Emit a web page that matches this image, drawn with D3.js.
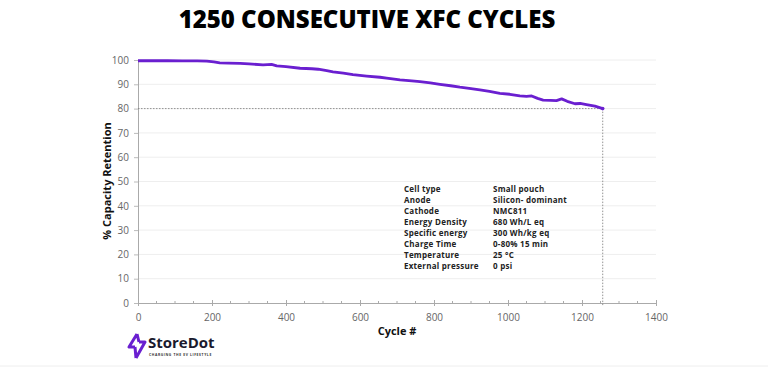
<!DOCTYPE html>
<html>
<head>
<meta charset="utf-8">
<script src="https://cdn.jsdelivr.net/npm/d3@7"></script>
<style>
  body { margin: 0; background: #fff; }
  text { font-family: "Open Sans", "Noto Sans", sans-serif; }
  .tick text { fill: #666; font-size: 10px; }
</style>
</head>
<body>
<div id="graphic"></div>
<script>
// cycle numbers and % capacity retention
var cycles    = [0, 40, 80, 120, 160, 186, 205, 221, 245, 276, 300, 338, 361, 375, 400, 438, 470, 487, 510, 527, 555, 581, 618, 654, 672, 708, 740, 762, 790, 816, 845, 870, 900, 924, 950, 978, 1005, 1032, 1050, 1064, 1080, 1095, 1115, 1131, 1145, 1160, 1181, 1195, 1212, 1235, 1256];
var retention = [99.7, 99.7, 99.7, 99.6, 99.6, 99.5, 99.2, 98.8, 98.7, 98.6, 98.4, 98.0, 98.2, 97.6, 97.3, 96.6, 96.4, 96.2, 95.6, 95.1, 94.6, 94.0, 93.4, 92.9, 92.5, 91.8, 91.4, 91.1, 90.6, 90.0, 89.4, 88.8, 88.2, 87.7, 87.1, 86.3, 85.9, 85.2, 85.0, 85.2, 84.2, 83.5, 83.4, 83.3, 84.0, 83.0, 82.0, 82.1, 81.6, 81.0, 80.0];

var xTicks = [0, 200, 400, 600, 800, 1000, 1200, 1400];
var yTicks = [0, 10, 20, 30, 40, 50, 60, 70, 80, 90, 100];
var eolCycle = 1256, eolLevel = 80;

var specLabels = ["Cell type", "Anode", "Cathode", "Energy Density", "Specific energy", "Charge Time", "Temperature", "External pressure"];
var specValues = ["Small pouch", "Silicon- dominant", "NMC811", "680 Wh/L eq", "300 Wh/kg eq", "0-80% 15 min", "25 °C", "0 psi"];

var width = 768, height = 367;
var margin = {top: 60, right: 112, bottom: 64, left: 138};

var svg = d3.select("#graphic")
    .append("svg")
    .attr("width", width)
    .attr("height", height);

var x = d3.scaleLinear().domain([0, 1400]).range([margin.left, width - margin.right]);
var y = d3.scaleLinear().domain([0, 100]).range([height - margin.bottom, margin.top]);

svg.append("text")
    .attr("x", 367)
    .attr("y", 28)
    .attr("text-anchor", "middle")
    .attr("font-size", "24px")
    .attr("font-weight", 800)
    .attr("fill", "#000")
    .text("1250 CONSECUTIVE XFC CYCLES");

// gridlines
svg.append("g")
    .selectAll("line")
    .data(yTicks.filter(d => d > 0))
    .enter().append("line")
    .attr("x1", x(0))
    .attr("x2", x(1400))
    .attr("y1", d => y(d))
    .attr("y2", d => y(d))
    .attr("stroke", "#eeeeee")
    .attr("stroke-width", 1);

// y axis
var yAxis = svg.append("g")
    .attr("transform", "translate(" + x(0) + ",0)")
    .call(d3.axisLeft(y).tickValues(yTicks).tickSize(4).tickPadding(5));
yAxis.select(".domain").attr("stroke", "#aaa");
yAxis.selectAll(".tick line").attr("stroke", "#bbb");

// x axis: minor ticks every 50
svg.append("g")
    .selectAll("line")
    .data(d3.range(50, 1400, 50).filter(d => d % 200 != 0))
    .enter().append("line")
    .attr("x1", d => x(d))
    .attr("x2", d => x(d))
    .attr("y1", y(0) - 2)
    .attr("y2", y(0))
    .attr("stroke", "#aaa");

var xAxis = svg.append("g")
    .attr("transform", "translate(0," + y(0) + ")")
    .call(d3.axisBottom(x).tickValues(xTicks).tickFormat(d3.format("d"))
      .tickSizeInner(3).tickSizeOuter(0).tickPadding(8));
xAxis.select(".domain").attr("stroke", "#aaa");
xAxis.selectAll(".tick line").attr("stroke", "#aaa").attr("y1", -3);

// end-of-life guides
svg.append("line")
    .attr("x1", x(0)).attr("x2", x(eolCycle))
    .attr("y1", y(eolLevel)).attr("y2", y(eolLevel))
    .attr("stroke", "#777").attr("stroke-width", 0.8)
    .attr("stroke-dasharray", "1.5,1.5");
svg.append("line")
    .attr("x1", x(eolCycle)).attr("x2", x(eolCycle))
    .attr("y1", y(eolLevel)).attr("y2", y(0) + 3)
    .attr("stroke", "#777").attr("stroke-width", 0.8)
    .attr("stroke-dasharray", "1.5,1.5");

// capacity curve
var line = d3.line()
    .x((d, i) => x(cycles[i]))
    .y(d => y(d));

svg.append("path")
    .datum(retention)
    .attr("fill", "none")
    .attr("stroke", "#6a1fd0")
    .attr("stroke-width", 2.8)
    .attr("stroke-linejoin", "round")
    .attr("d", line);

svg.append("circle")
    .attr("cx", x(eolCycle))
    .attr("cy", y(eolLevel))
    .attr("r", 1.8)
    .attr("fill", "#6a1fd0");

// axis titles
svg.append("text")
    .attr("x", 397)
    .attr("y", 335)
    .attr("text-anchor", "middle")
    .attr("font-size", "11px")
    .attr("font-weight", 700)
    .attr("fill", "#111")
    .text("Cycle #");

svg.append("text")
    .attr("transform", "translate(111,181) rotate(-90)")
    .attr("text-anchor", "middle")
    .attr("font-size", "11px")
    .attr("font-weight", 700)
    .attr("fill", "#111")
    .text("% Capacity Retention");

// cell spec table
var spec = svg.append("g")
    .attr("font-size", "8px")
    .attr("letter-spacing", "0.25px")
    .attr("font-weight", 700)
    .attr("fill", "#222");

spec.selectAll(".lbl")
    .data(specLabels)
    .enter().append("text")
    .attr("x", 404)
    .attr("y", (d, i) => 192 + i * 11)
    .text(d => d);

spec.selectAll(".val")
    .data(specValues)
    .enter().append("text")
    .attr("x", 493)
    .attr("y", (d, i) => 192 + i * 11)
    .text(d => d);

// logo
var logo = svg.append("g").attr("transform", "translate(127,333)");
logo.append("path")
    .attr("d", "M10,1 L2,14 L8,14 M12,9 L18,9 L9,25 M10,1 L12,9 M8,14 L9,25")
    .attr("fill", "none")
    .attr("stroke", "#6a1fd0")
    .attr("stroke-width", 3)
    .attr("stroke-linejoin", "round");
logo.append("text")
    .attr("x", 21)
    .attr("y", 15)
    .attr("font-size", "15px")
    .attr("font-weight", 700)
    .attr("fill", "#1a1a2e")
    .text("StoreDot");
logo.append("text")
    .attr("x", 22)
    .attr("y", 23)
    .attr("font-size", "3.4px")
    .attr("font-weight", 700)
    .attr("letter-spacing", "0.6px")
    .attr("fill", "#333")
    .text("CHARGING THE EV LIFESTYLE");

// faint frame line at the bottom
svg.append("line")
    .attr("x1", 0).attr("x2", width)
    .attr("y1", height - 1).attr("y2", height - 1)
    .attr("stroke", "#eee");
</script>
</body>
</html>
